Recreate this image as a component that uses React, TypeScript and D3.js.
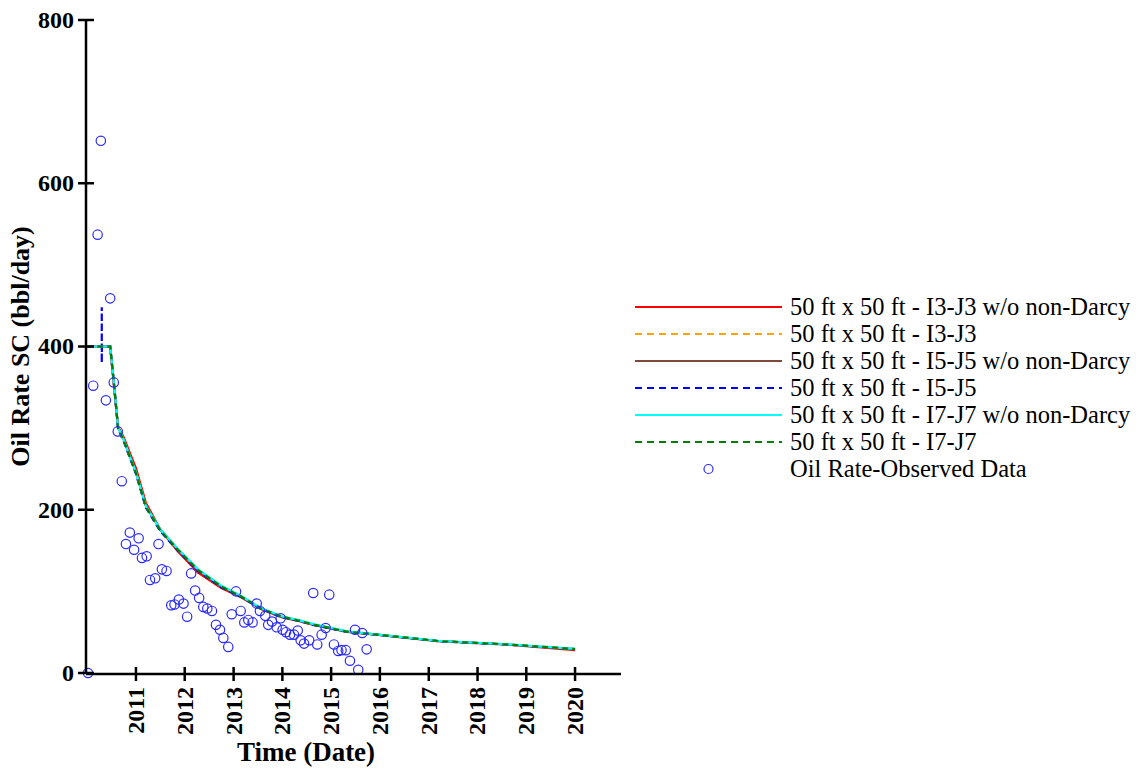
import React from "react";
import * as d3 from "d3";

// Simulation output dates shared by all six grid-refinement runs
const simDates = [
  "2010-01-01", "2010-06-22", "2010-07-20", "2010-08-20", "2010-10-01",
  "2010-11-20", "2011-01-01", "2011-03-15", "2011-07-01", "2011-11-10",
  "2012-04-10", "2012-10-01", "2013-03-01", "2013-07-25", "2013-12-25",
  "2014-05-10", "2014-08-30", "2015-05-01", "2016-01-05", "2017-03-10",
  "2018-07-20", "2020-01-01",
];

const i3j3NoND = [400, 400, 352, 302, 289, 268, 251, 209, 176, 149, 123, 104, 92.5, 78.5, 68.5, 63.5, 58.5, 50.3, 46.3, 39, 35, 28];
const i3j3 = [400, 400, 355, 300, 285, 263, 245, 204, 175, 151, 126, 106, 93.5, 79, 69, 64, 59, 50.6, 46.6, 39.2, 35.2, 29.4];
const i5j5NoND = [400, 400, 356, 301, 286, 264, 246, 205, 176, 152, 126, 106, 93, 79, 69, 64, 59, 50.6, 46.6, 39.2, 35.2, 29.4];
const i5j5 = [400, 400, 354, 299, 284, 262, 244, 203, 174, 150, 125, 105, 93, 78.5, 68.5, 63.5, 58.5, 50.4, 46.4, 39, 35, 29.2];
const i7j7NoND = [400, 400, 355, 301, 286, 264, 246, 205, 176, 152, 127, 107, 94, 79.5, 69.5, 64.5, 59.5, 51, 46.8, 39.4, 35.4, 29.6];
const i7j7 = [400, 400, 355, 300, 285, 263, 245, 204, 175, 151, 126, 106, 93.5, 79, 69, 64, 59, 50.6, 46.6, 39.2, 35.2, 29.4];

// Early start-up transient of the I5-J5 run
const i5j5SpikeDates = ["2010-04-20", "2010-04-20", "2010-04-20", "2010-04-21"];
const i5j5SpikeValues = [400, 448, 380, 400];

// Observed oil rate (bbl/day)
const observedDates = [
  "2010-01-07", "2010-02-15", "2010-03-20", "2010-04-13", "2010-05-21", "2010-06-22",
  "2010-07-19", "2010-08-18", "2010-09-17", "2010-10-18", "2010-11-16", "2010-12-18",
  "2011-01-21", "2011-02-15", "2011-03-22", "2011-04-16", "2011-05-25", "2011-06-19",
  "2011-07-14", "2011-08-18", "2011-09-22", "2011-10-17", "2011-11-18", "2011-12-23",
  "2012-01-19", "2012-02-18", "2012-03-19", "2012-04-18", "2012-05-19", "2012-06-18",
  "2012-07-23", "2012-08-22", "2012-09-21", "2012-10-16", "2012-11-22", "2012-12-18",
  "2013-01-19", "2013-02-23", "2013-03-22", "2013-04-21", "2013-05-23", "2013-06-23",
  "2013-07-17", "2013-08-26", "2013-09-17", "2013-10-15", "2013-11-19", "2013-12-19",
  "2014-01-03", "2014-01-28", "2014-02-27", "2014-03-29", "2014-04-26", "2014-05-18",
  "2014-06-12", "2014-07-21", "2014-08-20", "2014-09-19", "2014-10-22", "2014-11-21",
  "2014-12-18", "2015-01-22", "2015-02-23", "2015-03-20", "2015-04-21", "2015-05-22",
  "2015-06-29", "2015-07-23", "2015-08-22", "2015-09-24",
];
const observedRates = [
  0, 352, 537, 652, 334, 459,
  356, 296, 235, 158, 172, 151,
  165, 141, 143, 114, 116, 158,
  127, 125, 83, 84, 90, 85,
  69, 122, 101, 92, 81, 79,
  76, 59, 53, 43, 32, 72,
  100, 76, 62, 65, 62, 85,
  76, 70, 59, 63, 56, 67,
  53, 50, 47, 47, 52, 40,
  36, 40, 98, 35, 47, 55,
  96, 35, 27, 28, 28, 15,
  53, 4, 49, 29,
];

const yTicks = [0, 200, 400, 600, 800];
const xTickYears = [2011, 2012, 2013, 2014, 2015, 2016, 2017, 2018, 2019, 2020];

const seriesNames = [
  "50 ft x 50 ft - I3-J3 w/o non-Darcy",
  "50 ft x 50 ft - I3-J3",
  "50 ft x 50 ft - I5-J5 w/o non-Darcy",
  "50 ft x 50 ft - I5-J5",
  "50 ft x 50 ft - I7-J7 w/o non-Darcy",
  "50 ft x 50 ft - I7-J7",
];
const seriesColors = ["#ff0000", "#ffa500", "#7f4a3a", "#0000ff", "#00ffff", "#008000"];
const seriesDashed = [false, true, false, true, false, true];
const observedName = "Oil Rate-Observed Data";

const parse = d3.timeParse("%Y-%m-%d");

export default function App() {
  const width = 1140;
  const height = 768;
  const left = 86;
  const right = 621;
  const top = 20;
  const bottom = 673;

  const x = d3
    .scaleTime()
    .domain([parse("2009-12-23")!, parse("2020-12-10")!])
    .range([left, right]);
  const y = d3.scaleLinear().domain([0, 800]).range([bottom, top]);

  const line = d3
    .line<[Date, number]>()
    .x((d) => x(d[0]))
    .y((d) => y(d[1]));

  const simValues = [i3j3NoND, i3j3, i5j5NoND, i5j5, i7j7NoND, i7j7];
  const series = simValues.map((vals, si) => {
    let pts: [Date, number][] = simDates.map((s, i) => [parse(s)!, vals[i]]);
    if (si === 3) {
      const spike: [Date, number][] = i5j5SpikeDates.map((s, i) => [parse(s)!, i5j5SpikeValues[i]]);
      pts = [pts[0], ...spike, ...pts.slice(1)];
    }
    return pts;
  });

  const observed = observedRates.map((v, i) => ({ date: parse(observedDates[i])!, value: v }));

  const serif = "'Liberation Serif', 'Times New Roman', Times, serif";
  const dash = "6,4";
  const axisW = 2.5;

  const legendX0 = 635;
  const legendX1 = 782;
  const legendTextX = 790;
  const legendY0 = 307;
  const legendDy = 27;

  return (
    <svg
      width={width}
      height={height}
      style={{ position: "absolute", left: 0, top: 0, background: "#fff" }}
      fontFamily={serif}
    >
      {/* simulated curves */}
      <g fill="none">
        {series.map((pts, i) => (
          <path
            key={i}
            d={line(pts) || ""}
            stroke={seriesColors[i]}
            strokeWidth={2.2}
            strokeDasharray={seriesDashed[i] ? dash : undefined}
          />
        ))}
      </g>

      {/* observed data */}
      <g fill="none" stroke="#2a2aff" strokeWidth={1.2}>
        {observed.map((d, i) => (
          <circle key={i} cx={x(d.date)} cy={y(d.value)} r={4.7} />
        ))}
      </g>

      {/* y axis */}
      <g stroke="#000" strokeWidth={axisW}>
        <line x1={left} x2={left} y1={top} y2={bottom + 1} />
        {yTicks.map((t) => (
          <line key={t} x1={left - 8} x2={left + 8} y1={y(t)} y2={y(t)} />
        ))}
      </g>
      <g fontSize={24} fontWeight="bold" textAnchor="end">
        {yTicks.map((t) => (
          <text key={t} x={left - 12} y={y(t)} dy="0.33em">
            {t}
          </text>
        ))}
      </g>

      {/* x axis */}
      <g stroke="#000" strokeWidth={axisW}>
        <line x1={left} x2={right} y1={bottom + 1} y2={bottom + 1} />
        {xTickYears.map((yr) => {
          const px = x(new Date(yr, 0, 1));
          return <line key={yr} x1={px} x2={px} y1={bottom - 6} y2={bottom + 8} />;
        })}
      </g>
      <g fontSize={24} fontWeight="bold" textAnchor="end">
        {xTickYears.map((yr) => {
          const px = x(new Date(yr, 0, 1));
          return (
            <text key={yr} transform={`translate(${px},${bottom + 14}) rotate(-90)`} dy="0.33em">
              {yr}
            </text>
          );
        })}
      </g>

      {/* axis titles */}
      <text x={306} y={761} textAnchor="middle" fontSize={27} fontWeight="bold">
        Time (Date)
      </text>
      <text
        transform={`translate(29,${(top + bottom) / 2}) rotate(-90)`}
        textAnchor="middle"
        fontSize={26}
        fontWeight="bold"
      >
        Oil Rate SC (bbl/day)
      </text>

      {/* legend */}
      <g fontSize={24.5} fontFamily={serif}>
        {seriesNames.map((name, i) => {
          const ly = legendY0 + i * legendDy;
          return (
            <g key={name}>
              <line
                x1={legendX0}
                x2={legendX1}
                y1={ly}
                y2={ly}
                stroke={seriesColors[i]}
                strokeWidth={2}
                strokeDasharray={seriesDashed[i] ? "7,5" : undefined}
              />
              <text x={legendTextX} y={ly} dy="0.33em">
                {name}
              </text>
            </g>
          );
        })}
        <circle
          cx={(legendX0 + legendX1) / 2}
          cy={legendY0 + 6 * legendDy}
          r={4.5}
          fill="none"
          stroke="#2a2aff"
          strokeWidth={1.2}
        />
        <text x={legendTextX} y={legendY0 + 6 * legendDy} dy="0.33em">
          {observedName}
        </text>
      </g>
    </svg>
  );
}
